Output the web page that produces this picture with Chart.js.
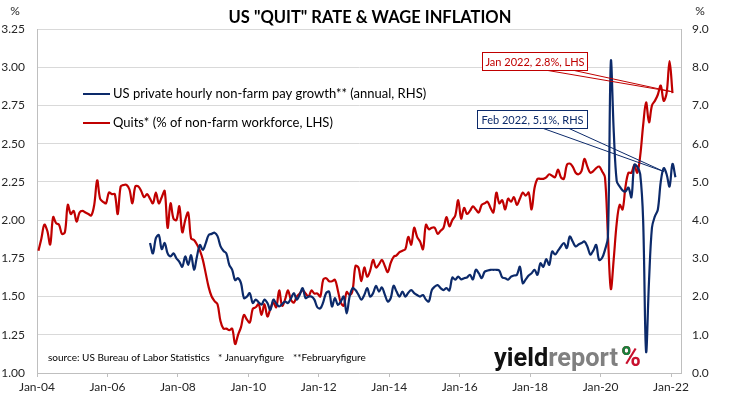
<!DOCTYPE html>
<html lang="en">
<head>
  <meta charset="UTF-8" />
  <title>US "QUIT" RATE &amp; WAGE INFLATION</title>
  <script src="https://cdn.jsdelivr.net/npm/chart.js"></script>
  <style>
    html, body { margin: 0; padding: 0; background: #fff; }
    #grafico { display: block; }
  </style>
</head>
<body>
  <canvas id="grafico" width="731" height="399"></canvas>

  <script>
    // months are counted from Jan 2004 (= 0)
    const quitsStart = 0;   // Jan 2004
    const quitsRate = [
      1.80,1.88,1.97,1.93,1.84,2.02,1.98,1.97,1.91,1.92,2.10,2.04,
      2.06,1.99,2.05,2.06,2.05,2.04,2.03,2.10,2.26,2.14,2.12,2.11,
      2.18,2.17,2.17,2.04,2.22,2.23,2.23,2.20,2.11,2.22,2.22,2.19,
      2.15,2.17,2.14,2.11,2.18,2.11,2.15,2.19,1.95,2.11,2.01,2.00,
      2.09,1.92,2.00,2.05,1.88,1.87,1.84,1.80,1.74,1.65,1.56,1.50,
      1.47,1.45,1.34,1.29,1.29,1.28,1.29,1.19,1.25,1.30,1.38,1.35,
      1.33,1.42,1.43,1.45,1.38,1.45,1.37,1.42,1.46,1.43,1.54,1.44,
      1.48,1.54,1.48,1.46,1.50,1.52,1.54,1.52,1.50,1.54,1.52,1.52,
      1.50,1.61,1.62,1.60,1.60,1.61,1.54,1.46,1.44,1.53,1.51,1.54,
      1.70,1.69,1.60,1.69,1.63,1.67,1.74,1.69,1.71,1.74,1.70,1.66,
      1.72,1.76,1.77,1.79,1.80,1.81,1.89,1.84,1.95,1.89,1.86,1.81,
      1.97,1.94,1.95,1.95,1.91,1.93,1.95,2.02,1.96,2.00,2.03,2.13,
      2.01,2.08,2.04,2.06,2.09,2.07,2.05,2.10,2.11,2.12,2.08,2.05,
      2.18,2.11,2.13,2.07,2.14,2.12,2.15,2.10,2.14,2.18,2.16,2.18,
      2.07,2.21,2.27,2.27,2.27,2.28,2.30,2.29,2.28,2.33,2.28,2.27,
      2.36,2.37,2.35,2.31,2.30,2.32,2.40,2.35,2.31,2.32,2.34,2.35,
      2.32,2.28,1.90,1.55,1.75,1.98,2.10,2.07,2.22,2.31,2.31,2.36,
      2.31,2.42,2.62,2.77,2.64,2.75,2.78,2.82,2.88,2.78,2.83,3.04,
      2.83
    ];

    const payStart = 38;    // Mar 2007
    const payGrowth = [
                3.40,3.13,3.53,3.61,3.24,3.40,3.13,3.05,3.13,3.00,
      2.91,2.78,3.05,2.83,3.08,2.70,3.05,3.35,3.22,3.40,3.61,3.64,
      3.67,3.58,3.32,3.20,3.13,2.83,2.70,2.43,2.48,2.35,1.96,2.00,
      2.09,1.83,1.92,1.85,1.79,1.92,1.83,1.65,1.92,1.82,1.74,1.80,
      1.87,1.83,1.95,2.09,1.92,2.05,2.22,1.96,2.00,2.00,1.92,1.72,
      1.69,1.85,2.09,2.13,1.74,1.96,1.78,1.87,2.00,1.56,2.00,2.22,
      2.17,2.05,1.92,2.04,2.22,2.00,2.09,2.28,2.13,2.24,2.05,1.87,
      1.96,2.28,2.13,2.00,2.13,2.00,2.10,2.17,2.09,2.04,2.00,2.04,
      1.92,1.87,2.17,2.26,2.30,2.22,2.17,2.22,2.16,2.50,2.44,2.52,
      2.45,2.48,2.50,2.57,2.45,2.70,2.61,2.48,2.65,2.68,2.70,2.70,
      2.70,2.68,2.50,2.48,2.44,2.52,2.55,2.57,2.78,2.35,2.45,2.55,
      2.61,2.70,2.57,2.87,2.78,2.98,2.83,3.18,3.10,3.20,3.31,3.40,
      3.27,3.57,3.44,3.31,3.36,3.40,3.44,3.31,3.10,3.20,3.35,2.96,
      3.01,3.22,3.55,8.15,6.30,5.02,4.88,4.78,4.75,4.85,4.60,5.45,
      5.40,5.20,4.00,0.56,2.40,3.80,4.10,4.27,5.00,5.36,5.20,4.88,
      5.47,5.12
    ];

    const tickMonths = [0, 24, 48, 72, 96, 120, 144, 168, 192, 216];
    const tickLabels = ['Jan-04', 'Jan-06', 'Jan-08', 'Jan-10', 'Jan-12',
                        'Jan-14', 'Jan-16', 'Jan-18', 'Jan-20', 'Jan-22'];

    const NAVY = '#0c2a6a';
    const RED = '#c00000';

    // points sit in the middle of their month
    function toPoints(values, start) {
      return values.map((v, i) => ({ x: start + i + 0.5, y: v }));
    }

    // title, legend, notes, callouts and logo
    const extras = {
      id: 'extras',
      afterDraw(chart) {
        const ctx = chart.ctx;
        const sx = chart.scales.x, sy = chart.scales.y, sy2 = chart.scales.y2;
        ctx.save();

        ctx.fillStyle = '#000';
        ctx.font = 'bold 16.5px Lato';
        ctx.textAlign = 'center';
        ctx.textBaseline = 'alphabetic';
        ctx.fillText('US "QUIT" RATE & WAGE INFLATION', 370, 22.5);

        ctx.font = '12px Lato';
        ctx.fillStyle = '#262626';
        ctx.textBaseline = 'middle';
        ctx.fillText('%', 15, 11);
        ctx.fillText('%', 700, 11);

        // legend
        ctx.textAlign = 'left';
        ctx.font = '13px Lato';
        const legendY = [94, 123];
        chart.data.datasets.forEach((ds, i) => {
          ctx.strokeStyle = ds.borderColor;
          ctx.lineWidth = 2;
          ctx.beginPath();
          ctx.moveTo(83, legendY[i]);
          ctx.lineTo(110, legendY[i]);
          ctx.stroke();
          ctx.fillStyle = '#000';
          ctx.fillText(ds.label, 113, legendY[i]);
        });

        // source note
        ctx.font = '10px Lato';
        ctx.fillText('source: US Bureau of Labor Statistics', 48, 358);
        ctx.fillText('* Januaryfigure', 218, 358);
        ctx.fillText('**Februaryfigure', 293, 358);

        // callouts
        function callout(text, color, box, bases, tip) {
          ctx.strokeStyle = color;
          ctx.lineWidth = 1;
          bases.forEach(bx => {
            ctx.beginPath();
            ctx.moveTo(bx, box.y + box.h);
            ctx.lineTo(tip.x, tip.y);
            ctx.stroke();
          });
          ctx.fillStyle = '#fff';
          ctx.fillRect(box.x, box.y, box.w, box.h);
          ctx.strokeRect(box.x + 0.5, box.y + 0.5, box.w, box.h);
          ctx.fillStyle = color;
          ctx.font = '11px Lato';
          ctx.textAlign = 'center';
          ctx.textBaseline = 'middle';
          ctx.fillText(text, box.x + box.w / 2 + 0.5, box.y + box.h / 2 + 1);
        }
        callout('Jan 2022, 2.8%, LHS', RED,
          { x: 482, y: 52, w: 105, h: 18 }, [545, 572],
          { x: sx.getPixelForValue(216.3), y: sy.getPixelForValue(2.84) });
        callout('Feb 2022, 5.1%, RHS', NAVY,
          { x: 477, y: 110, w: 110, h: 18 }, [542, 568],
          { x: sx.getPixelForValue(213.6), y: sy2.getPixelForValue(5.27) });

        // yieldreport logo
        ctx.textAlign = 'left';
        ctx.textBaseline = 'alphabetic';
        ctx.font = 'bold 25px Roboto';
        const w1 = ctx.measureText('yield').width;
        const w2 = ctx.measureText('report').width;
        const squeeze = 124 / (w1 + w2);
        ctx.save();
        ctx.translate(494, 366);
        ctx.scale(squeeze, 1);
        ctx.fillStyle = '#111';
        ctx.fillText('yield', 0, 0);
        ctx.fillStyle = '#808080';
        ctx.fillText('report', w1, 0);
        ctx.restore();
        ctx.font = 'bold 27px Roboto';
        ctx.fillStyle = '#c8102e';
        ctx.fillText('%', 621, 366);
        ctx.save();
        ctx.beginPath();
        ctx.rect(618, 340, 12, 17);
        ctx.clip();
        ctx.fillStyle = '#17813c';
        ctx.fillText('%', 621, 366);
        ctx.restore();

        ctx.restore();
      }
    };

    Chart.defaults.font.family = 'Lato';
    Chart.defaults.color = '#262626';

    new Chart(document.getElementById('grafico'), {
      type: 'line',
      data: {
        datasets: [
          {
            label: 'US private hourly non-farm pay growth** (annual, RHS)',
            data: toPoints(payGrowth, payStart),
            yAxisID: 'y2',
            borderColor: NAVY,
            borderWidth: 2.2,
            pointRadius: 0,
            tension: 0.35
          },
          {
            label: 'Quits* (% of non-farm workforce, LHS)',
            data: toPoints(quitsRate, quitsStart),
            yAxisID: 'y',
            borderColor: RED,
            borderWidth: 2.2,
            pointRadius: 0,
            tension: 0.35
          }
        ]
      },
      options: {
        responsive: false,
        animation: false,
        devicePixelRatio: 1,
        layout: { padding: { top: 29, left: 0, right: 0, bottom: 0 } },
        plugins: {
          legend: { display: false },
          tooltip: { enabled: false },
          title: { display: false }
        },
        scales: {
          x: {
            type: 'linear',
            min: 0,
            max: 219.4,
            afterBuildTicks: s => { s.ticks = tickMonths.map(v => ({ value: v })); },
            afterFit: s => { s.height = 26; },
            ticks: {
              autoSkip: false,
              maxRotation: 0,
              padding: 3,
              font: { size: 12 },
              callback: (v, i) => tickLabels[i]
            },
            grid: { drawOnChartArea: false, drawTicks: true, tickLength: 4, color: '#bfbfbf' },
            border: { color: '#bfbfbf' }
          },
          y: {
            position: 'left',
            min: 1,
            max: 3.25,
            afterFit: s => { s.width = 37; },
            ticks: { stepSize: 0.25, padding: 12, font: { size: 12 }, callback: v => v.toFixed(2) },
            grid: { color: '#d9d9d9', drawTicks: false },
            border: { color: '#bfbfbf' }
          },
          y2: {
            position: 'right',
            min: 0,
            max: 9,
            afterFit: s => { s.width = 50; },
            ticks: { stepSize: 1, padding: 11, font: { size: 12 }, callback: v => v.toFixed(1) },
            grid: { drawOnChartArea: false, drawTicks: false },
            border: { color: '#bfbfbf' }
          }
        }
      },
      plugins: [extras]
    });
  </script>
</body>
</html>
